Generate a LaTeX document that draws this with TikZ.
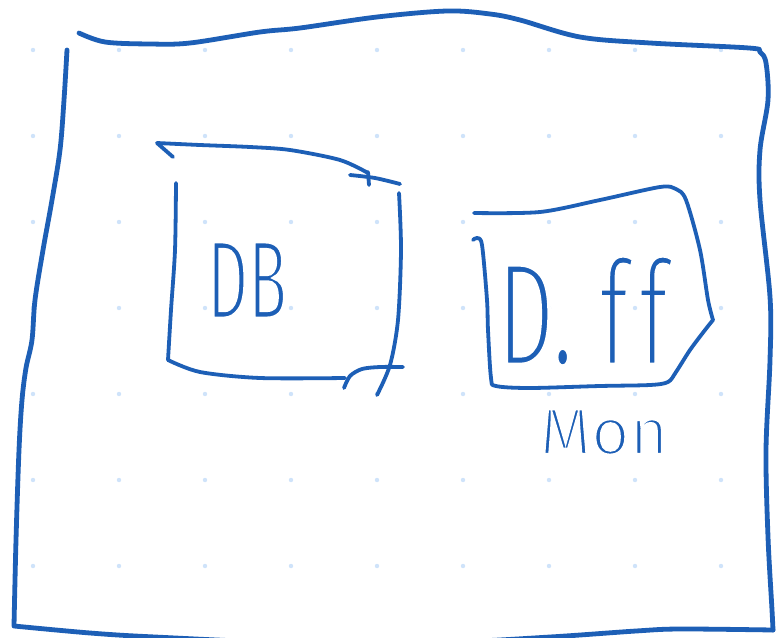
\documentclass[tikz,border=0pt]{standalone}
\usepackage{fontspec}
\usepackage{graphicx}
\newfontfamily\handfont{Fira Sans}
\definecolor{ink}{HTML}{1D5FB6}
\definecolor{griddot}{HTML}{CFE3FA}
% thin the glyphs of a label by stroking their outlines in white
\newcommand\thinink[2]{\special{pdf:literal direct 2 Tr 1 1 1 RG #1 w}#2\special{pdf:literal direct 0 Tr}}
\begin{document}
\begin{tikzpicture}[x=1pt,y=-1pt,
  frame/.style={draw=ink, line width=4.8pt, line cap=round, line join=round},
  boxline/.style={draw=ink, line width=3.8pt, line cap=round, line join=round},
  scrawl/.style={text=ink, inner sep=0pt},
]
\useasboundingbox (0,0) rectangle (776,637);
\clip (0,0) rectangle (776,637);
\fill[white] (0,0) rectangle (776,637);

% dotted grid
\foreach \i in {0,...,8}
  \foreach \j in {0,...,6}
    \fill[griddot] (33+86*\i,50+86*\j) circle (2.2);

% outer frame: top and right side
\draw[frame] plot[smooth, tension=0.55] coordinates {
  (79,33) (105,42) (150,44) (190,43) (260,32) (300,28) (377,17) (447,11)
  (490,14) (520,20) (580,37) (650,43) (749,48) (760,52) (766,63) (768,100)
  (760,150) (760,200) (770,297) (770,360) (766,450) (768,537) (772,610) (773,630)};
% outer frame: left side and bottom
\draw[frame] plot[smooth, tension=0.55] coordinates {
  (67,50) (64,100) (60,150) (52,200) (43,250) (35,300) (32,340) (26,368)
  (22,400) (19,450) (16,540) (14,626)}
  -- plot[smooth, tension=0.55] coordinates {
  (14,626) (90,633) (155,637) (300,643) (450,642) (550,637) (636,631)
  (680,629) (773,630)};

% DB box
\draw[boxline] (173,157) -- (157,143) -- plot[smooth] coordinates {
  (157,143) (200,145) (250,147) (290,150) (340,160) (368,173)};
\draw[boxline] plot[smooth] coordinates {(350,175) (375,178) (400,184)};
\draw[boxline] (368,172) -- (369,185);
\draw[boxline] plot[smooth] coordinates {(176,183) (175,250) (171,310) (168,360)}
  -- plot[smooth] coordinates {(168,360) (200,372) (260,378) (345,378)};
\draw[boxline] plot[smooth] coordinates {(344,388) (350,376) (362,369) (380,367) (403,367)};
\draw[boxline] plot[smooth] coordinates {(399,193) (401,250) (398,320) (390,365) (377,395)};

% D. ff box
\draw[boxline] plot[smooth] coordinates {
  (474,213) (540,212) (600,200) (660,187) (676,189) (686,200) (700,250)
  (708,300) (713,320)}
  -- plot[smooth] coordinates {
  (713,320) (705,330) (690,350) (676,372) (668,382) (650,385) (600,386)
  (530,388) (496,386) (491,378) (488,330) (487,300) (482,245) (477,238) (473,240)};

% labels
\node[scrawl, font=\handfont\fontsize{112}{113}\selectfont] (db) at (247,280)
  {\scalebox{0.57}[1]{\thinink{4}{DB}}};
\node[scrawl, font=\handfont\fontsize{148}{149}\selectfont] (dff) at (583,311)
  {\scalebox{0.59}[1]{\thinink{6}{D.\hspace{0.3em}f\kern0.12em f}}};
\node[scrawl, font=\handfont\fontsize{66}{67}\selectfont] (mon) at (604,432)
  {\thinink{3}{Mon}};
\end{tikzpicture}
\end{document}
